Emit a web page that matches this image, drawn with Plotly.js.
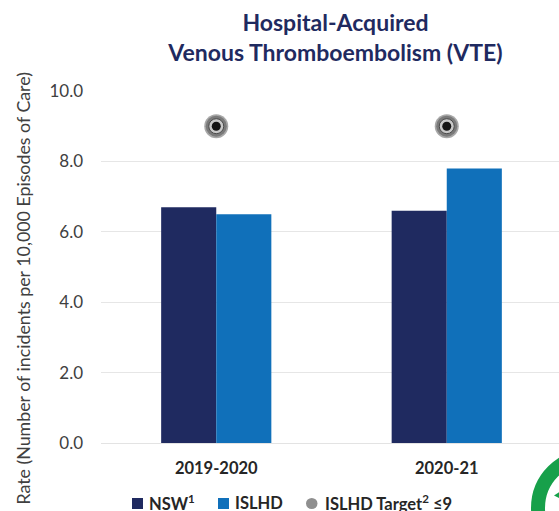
<!DOCTYPE html>
<html><head><meta charset="utf-8">
<script src="https://cdn.plot.ly/plotly-3.0.1.min.js"></script>
<style>html,body{margin:0;padding:0;width:559px;height:511px;overflow:hidden;background:#fff}</style>
</head><body><div id="c" style="width:660px;height:580px"></div>
<script>
const categories = ["2019-2020", "2020-21"];
const nsw = [6.7, 6.6];
const islhd = [6.5, 7.8];
const target = [9, 9];
const FONT = "Lato, 'Open Sans', sans-serif";
const NAVY = "#1F2A60", BLUE = "#1070BA", INK = "#262626", GREY = "#404040", GREEN = "#17A04A";
const W = 660, H = 580;
const L = 101, PR = 562, T = 91, PB = 443;
const px = v => (v - L) / (PR - L);
const py = v => (PB - v) / (PB - T);
function ring(size, fill, line, lw, name) {
  return {type:"scatter", mode:"markers", x:categories, y:target, name:name, showlegend:false,
    marker:{symbol:"circle", size:size, color:fill, line:{color:line, width:lw}}, cliponaxis:false, hoverinfo:"skip"};
}
const traces = [
  {type:"bar", name:"NSW", x:categories, y:nsw, marker:{color:NAVY}},
  {type:"bar", name:"ISLHD", x:categories, y:islhd, marker:{color:BLUE}},
  ring(24, "#A8A8A8", "#A8A8A8", 0, "ISLHD Target"),
  ring(21, "#7A7A7A", "#7A7A7A", 0, "ring 2"),
  ring(15, "#C8C8C8", "#4A4A4A", 1, "ring 3"),
  ring(9, "#141414", "#141414", 0, "ring 4")
];
function legendText(x, text) {
  return {xref:"paper", yref:"paper", x:px(x), y:py(502.5), xanchor:"left", yanchor:"middle", showarrow:false,
    xshift:-2, text:"<b>"+text+"</b>", font:{family:FONT, size:16.5, color:INK}};
}
function box(x0, x1, kind, color) {
  return {type:kind, xref:"paper", yref:"paper", x0:px(x0), x1:px(x1), y0:py(509), y1:py(498), fillcolor:color, line:{width:0}};
}
const layout = {
  width:W, height:H, paper_bgcolor:"#fff", plot_bgcolor:"#fff",
  margin:{l:L, r:W-PR, t:T, b:H-PB, pad:0},
  showlegend:false,
  barmode:"group", bargap:0.522, bargroupgap:0,
  title:{text:"<b>Hospital-Acquired<br>Venous Thromboembolism (VTE)</b>",
    font:{family:FONT, size:23, color:NAVY}, x:335.5/W, xanchor:"center", y:1-31/H, yanchor:"top"},
  xaxis:{type:"category", range:[-0.5,1.5], showgrid:false, ticks:"", zeroline:false,
    showline:true, linecolor:"#E3E3E3", linewidth:1, ticklabelstandoff:10,
    tickfont:{family:FONT, size:16.5, color:INK, weight:700}, automargin:false},
  yaxis:{range:[0,10], tickvals:[0,2,4,6,8,10], ticktext:["0.0","2.0","4.0","6.0","8.0","10.0"],
    showgrid:true, gridcolor:"#E6E6E6", gridwidth:1, zeroline:false, ticks:"", ticklen:0,
    ticklabelstandoff:17,
    tickfont:{family:FONT, size:17, color:GREY}, automargin:false},
  shapes:[
    box(132,143,"rect",NAVY), box(218,229,"rect",BLUE), box(306,317.5,"circle","#8F8F8F"),
    {type:"circle", xref:"paper", yref:"paper", x0:px(538), x1:px(642), y0:py(560), y1:py(456),
      fillcolor:"rgba(0,0,0,0)", line:{color:GREEN, width:14}},
    {type:"path", xref:"paper", yref:"paper", fillcolor:GREEN, line:{width:0},
      path:"M "+px(554)+" "+py(495.5)+" L "+px(560)+" "+py(491.5)+" L "+px(560)+" "+py(498.5)+" Z"}
  ],
  annotations:[
    legendText(149,"NSW<sup>1</sup>"), legendText(235,"ISLHD"), legendText(325,"ISLHD Target<sup>2</sup> ≤9"),
    {xref:"paper", yref:"paper", x:px(22), y:py(288.5), xanchor:"center", yanchor:"middle", textangle:-90, showarrow:false,
      text:"Rate (Number of incidents per 10,000 Episodes of Care)", font:{family:FONT, size:17.8, color:GREY}}
  ]
};
Plotly.newPlot("c", traces, layout, {displayModeBar:false, responsive:false});
</script></body></html>
